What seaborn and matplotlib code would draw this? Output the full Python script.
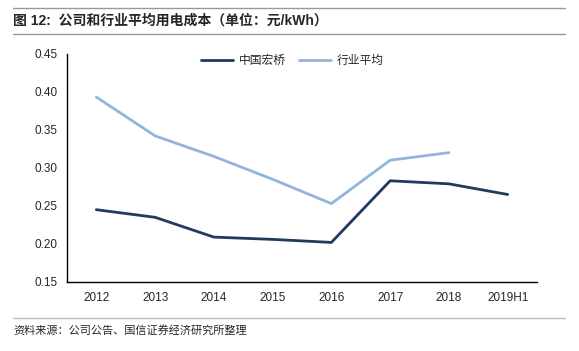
import numpy as np
import pandas as pd
import matplotlib
matplotlib.use("Agg")
import matplotlib.pyplot as plt
import seaborn as sns
from matplotlib.lines import Line2D

years = ["2012", "2013", "2014", "2015", "2016", "2017", "2018", "2019H1"]
hongqiao = [0.245, 0.235, 0.209, 0.206, 0.202, 0.283, 0.279, 0.265]
industry = [0.393, 0.342, 0.315, 0.285, 0.253, 0.310, 0.320, np.nan]
series_names = ["中国宏桥", "行业平均"]
yticks = [0.15, 0.20, 0.25, 0.30, 0.35, 0.40, 0.45]
title = "图 12:  公司和行业平均用电成本（单位：元/kWh）"
source = "资料来源：公司公告、国信证券经济研究所整理"

sns.set_style("white")
plt.rcParams['font.family'] = ['Liberation Sans', 'Noto Sans CJK SC', 'DejaVu Sans']

df = pd.DataFrame({
    "year": years * 2,
    "value": hongqiao + industry,
    "series": [series_names[0]] * len(years) + [series_names[1]] * len(years),
})
df = df.dropna()

colors = {series_names[0]: "#1F3B5E", series_names[1]: "#93B4DC"}

fig = plt.figure(figsize=(5.79, 3.51), dpi=100)
ax = fig.add_axes([67/579, 1-282/351, (537-67)/579, (282-53.7)/351])

sns.lineplot(data=df, x="year", y="value", hue="series", palette=colors,
             linewidth=2.0, ax=ax, legend=False, sort=False)

ax.set_xlim(-0.5, len(years) - 0.5)
ax.set_ylim(0.15, 0.45)
ax.set_yticks(yticks)
ax.set_yticklabels([f"{v:.2f}" for v in yticks], fontsize=8.5)
ax.set_xticks(range(len(years)))
ax.set_xticklabels(years, fontsize=8.5)
ax.set_xticks(np.arange(-0.5, len(years)), minor=True)
ax.tick_params(axis="x", which="major", length=0, pad=7)
ax.tick_params(axis="x", which="minor", length=4, width=1, color="black", direction="out")
ax.tick_params(axis="y", which="major", length=4, width=1, color="black", direction="out", pad=3)
ax.set_xlabel("")
ax.set_ylabel("")
for s in ["top", "right"]:
    ax.spines[s].set_visible(False)
for s in ["left", "bottom"]:
    ax.spines[s].set_color("black")
    ax.spines[s].set_linewidth(1)

handles = [Line2D([], [], color=colors[n], linewidth=2.0) for n in series_names]
ax.legend(handles, series_names, loc="upper center", bbox_to_anchor=(0.48, 1.045),
          ncol=2, frameon=False, handlelength=2.7, handletextpad=0.5, columnspacing=1.1,
          prop={'family': ['Noto Sans CJK SC', 'DejaVu Sans'], 'size': 8.5})

# header / footer decoration
fig.add_artist(Line2D([13/579, 565/579], [1-8/351, 1-8/351], color="#999999", linewidth=1))
fig.add_artist(Line2D([13/579, 565/579], [1-34/351, 1-34/351], color="#999999", linewidth=1))
fig.add_artist(Line2D([13/579, 565/579], [1-318/351, 1-318/351], color="#bbbbbb", linewidth=1))
fig.text(13/579, 1-21/351, title, fontsize=10, fontweight="bold", va="center", ha="left",
         family=['Liberation Sans', 'Noto Sans CJK SC'])
fig.text(13/579, 1-330/351, source, fontsize=8, va="center", ha="left",
         family=['Noto Sans CJK SC', 'DejaVu Sans'])

fig.savefig("out.png", dpi=100)
